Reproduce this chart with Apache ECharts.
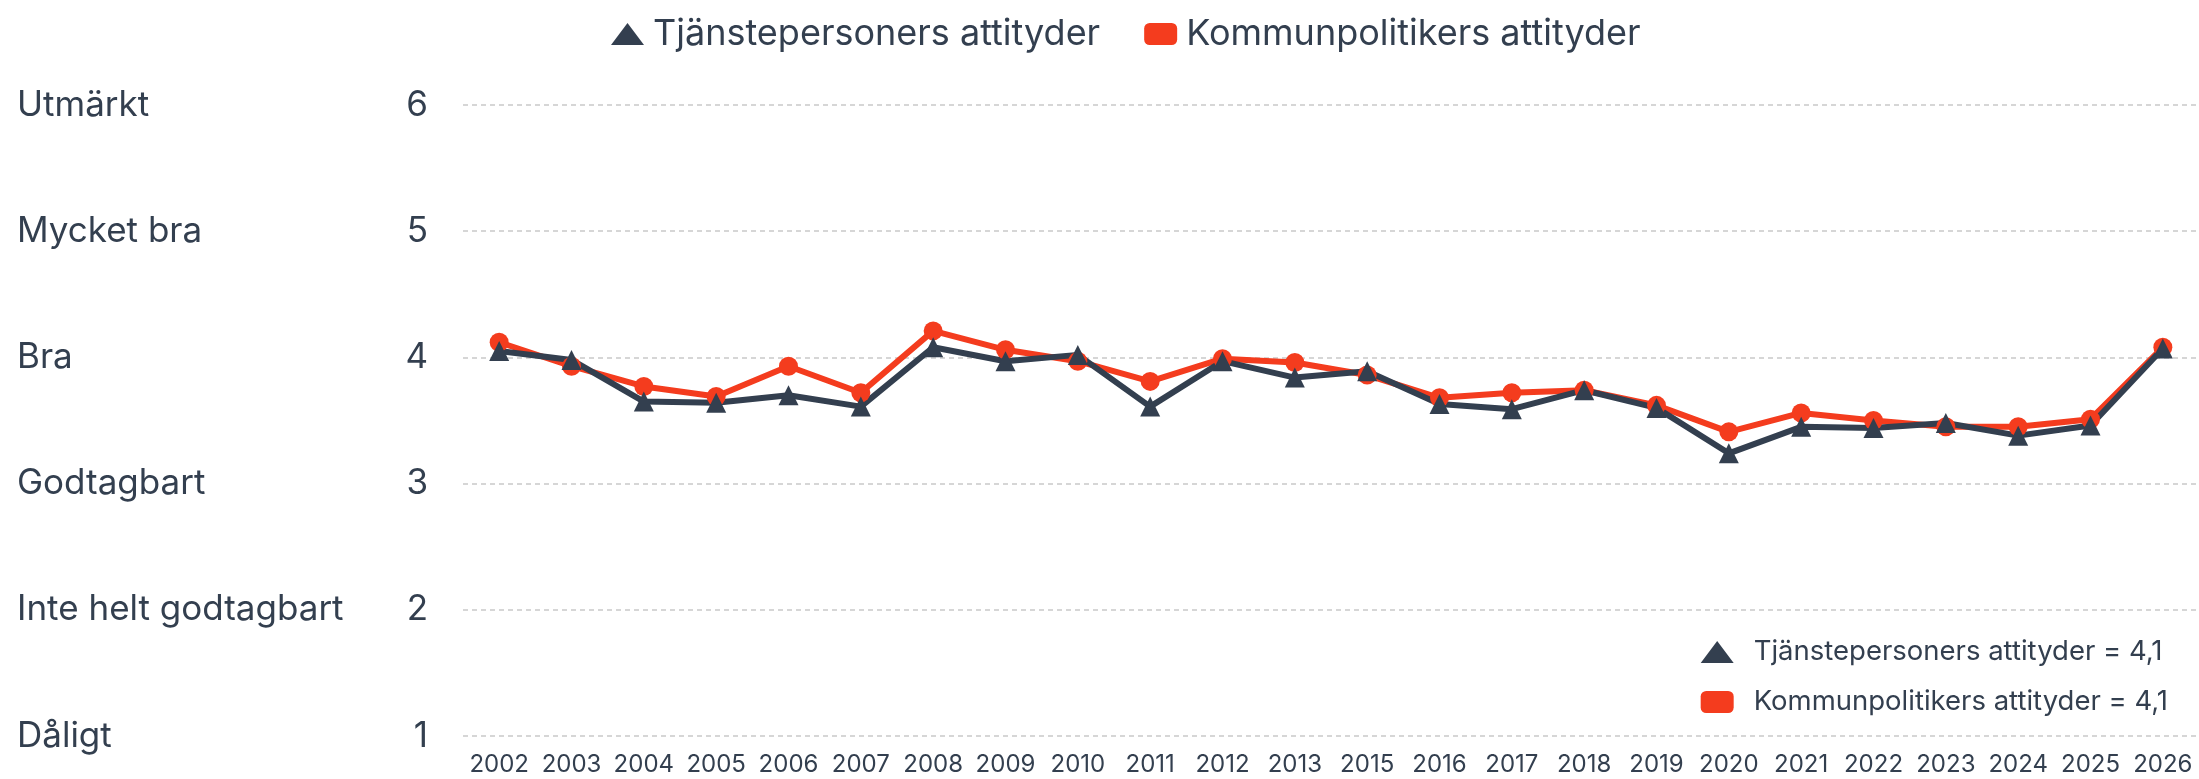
<!DOCTYPE html>
<html>
<head>
<meta charset="utf-8">
<script src="https://cdn.jsdelivr.net/npm/echarts@6/dist/echarts.min.js"></script>
<style>
  html, body { margin: 0; padding: 0; background: #fff; }
  #chart { width: 2199px; height: 779px; }
</style>
</head>
<body>
<div id="chart"></div>
<script>
const years = ['2002','2003','2004','2005','2006','2007','2008','2009','2010','2011','2012','2013',
  '2015','2016','2017','2018','2019','2020','2021','2022','2023','2024','2025','2026'];
const tjansteValues = [4.05, 3.98, 3.65, 3.64, 3.70, 3.61, 4.08, 3.97, 4.02, 3.61, 3.97, 3.84,
  3.89, 3.63, 3.59, 3.74, 3.60, 3.24, 3.45, 3.44, 3.48, 3.38, 3.46, 4.07];
const kommunValues = [4.12, 3.93, 3.77, 3.69, 3.93, 3.72, 4.21, 4.06, 3.97, 3.81, 3.99, 3.96,
  3.86, 3.68, 3.72, 3.74, 3.62, 3.41, 3.56, 3.50, 3.45, 3.45, 3.51, 4.08];
const scaleLabels = ['Dåligt', 'Inte helt godtagbart', 'Godtagbart', 'Bra', 'Mycket bra', 'Utmärkt'];

const tjansteName = 'Tjänstepersoners attityder';
const kommunName = 'Kommunpolitikers attityder';
const darkColor = '#333f4f';
const redColor = '#f43c1e';
const textColor = '#333f4f';
const font = 'Inter';

const lastValue = {};
lastValue[tjansteName] = tjansteValues[tjansteValues.length - 1];
lastValue[kommunName] = kommunValues[kommunValues.length - 1];

const chart = echarts.init(document.getElementById('chart'));
const option = {
  animation: false,
  textStyle: { fontFamily: font },
  legend: [
    {
      left: 606,
      top: 11,
      itemWidth: 33,
      itemHeight: 22,
      itemGap: 44,
      textStyle: { color: textColor, fontSize: 36, fontFamily: font, padding: [0, 0, 0, 4] },
      data: [
        { name: tjansteName, icon: 'triangle', itemStyle: { color: darkColor } },
        { name: kommunName, icon: 'roundRect', itemStyle: { color: redColor } }
      ]
    },
    {
      orient: 'vertical',
      right: 26,
      top: 633,
      itemWidth: 33,
      itemHeight: 22,
      itemGap: 22,
      textStyle: { color: textColor, fontSize: 27.5, fontFamily: font, padding: [0, 0, 0, 15] },
      formatter: function (name) {
        return name + ' = ' + lastValue[name].toFixed(1).replace('.', ',');
      },
      data: [
        { name: tjansteName, icon: 'triangle', itemStyle: { color: darkColor } },
        { name: kommunName, icon: 'roundRect', itemStyle: { color: redColor } }
      ]
    }
  ],
  grid: { left: 463, right: 0, top: 105, bottom: 43, containLabel: false },
  xAxis: {
    type: 'category',
    data: years,
    boundaryGap: true,
    axisLine: { show: false },
    axisTick: { show: false },
    axisLabel: { interval: 0, color: textColor, fontSize: 24, fontFamily: font, margin: 17 }
  },
  yAxis: {
    type: 'value',
    min: 1,
    max: 6,
    interval: 1,
    axisLine: { show: false },
    axisTick: { show: false },
    splitLine: { show: true, lineStyle: { color: '#c9c9c9', width: 1.5, type: [5, 4] } },
    axisLabel: {
      align: 'left',
      margin: 446,
      formatter: function (v) {
        return '{a|' + scaleLabels[v - 1] + '}{b|' + v + '}';
      },
      rich: {
        a: { width: 380, align: 'left', color: textColor, fontSize: 35, fontFamily: font },
        b: { width: 31, align: 'right', color: textColor, fontSize: 35, fontFamily: font }
      }
    }
  },
  series: [
    {
      name: kommunName,
      type: 'line',
      data: kommunValues,
      symbol: 'circle',
      symbolSize: 19,
      lineStyle: { color: redColor, width: 6 },
      itemStyle: { color: redColor }
    },
    {
      name: tjansteName,
      type: 'line',
      data: tjansteValues,
      symbol: 'triangle',
      symbolSize: 20,
      lineStyle: { color: darkColor, width: 6 },
      itemStyle: { color: darkColor }
    }
  ]
};
option && chart.setOption(option);
</script>
</body>
</html>
